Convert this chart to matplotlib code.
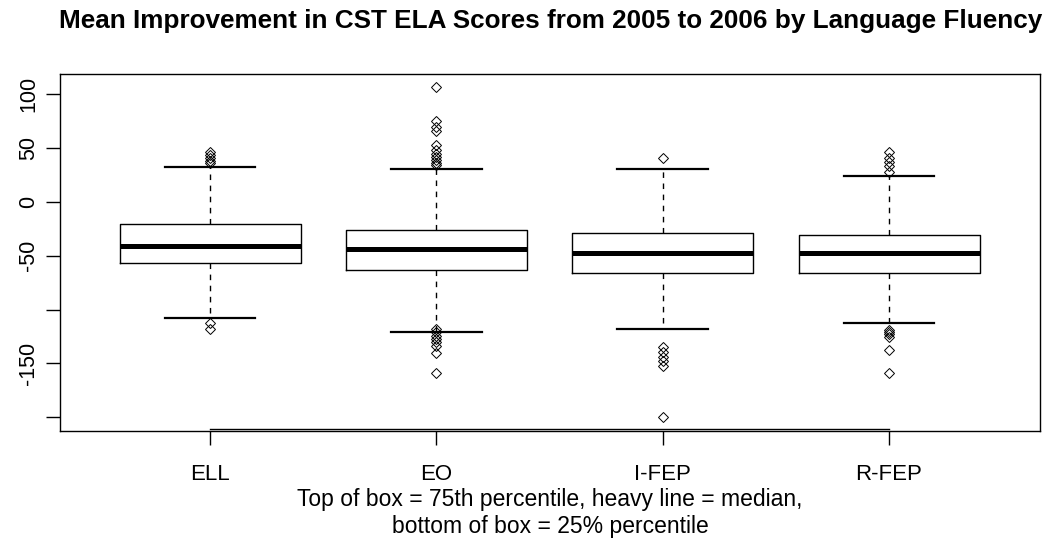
import matplotlib.pyplot as plt
from matplotlib import transforms
import numpy as np

plt.rcParams['font.family'] = ['Liberation Sans', 'DejaVu Sans']

W, H = 1054, 546

groups = ['ELL', 'EO', 'I-FEP', 'R-FEP']
q1 = [-57, -63.5, -65.6, -65.6]
med = [-41, -44, -47.7, -47.7]
q3 = [-20, -26.3, -28.5, -30.6]
whislo = [-107.4, -120.7, -118.3, -112]
whishi = [32.8, 31, 31, 24.1]
fliers = [
    [46.5, 44, 41, 38.5, 36, -112.5, -118],
    [107, 75, 70, 66, 53, 48, 45, 42, 39, 36, 34,
     -118, -121, -124, -127, -130, -134, -140, -159],
    [40.5, -135, -139, -144, -148, -152, -199.5],
    [46.5, 40.5, 37.5, 33.5, 28, -119, -121, -123, -125, -137, -159],
]

yticks = [-200, -150, -100, -50, 0, 50, 100]
ylabels = ['', '-150', '', '-50', '0', '50', '100']

stats = []
for i, g in enumerate(groups):
    stats.append(dict(label=g, q1=q1[i], med=med[i], q3=q3[i],
                      whislo=whislo[i], whishi=whishi[i], fliers=fliers[i]))

fig = plt.figure(figsize=(W / 100, H / 100), dpi=100)
ax = fig.add_axes([60 / W, 1 - 431 / H, 980 / W, 357 / H])

pos = np.arange(1, 5)
ax.bxp(stats, positions=pos, widths=0.8, capwidths=0.4,
       boxprops=dict(color='black', linewidth=1),
       medianprops=dict(color='black', linewidth=3.6, solid_capstyle='butt'),
       whiskerprops=dict(color='black', linewidth=1, linestyle=(0, (4, 4))),
       capprops=dict(color='black', linewidth=1.6),
       flierprops=dict(marker='D', markersize=5.5, markerfacecolor='none',
                       markeredgecolor='black', markeredgewidth=0.7))

ax.set_xlim(0.337, 4.667)
ax.set_ylim(-212.7, 118.9)

ax.set_yticks(yticks)
ax.set_yticklabels(ylabels, rotation=90, va='center')
ax.set_xticks(pos)
ax.set_xticklabels(groups)
ax.tick_params(axis='both', length=10, width=1, color='black')
ax.tick_params(axis='y', pad=5, labelsize=15.5)
ax.tick_params(axis='x', pad=14, labelsize=16)
for s in ax.spines.values():
    s.set_linewidth(1)

# axis line spanning the group positions, just above the frame
trans = transforms.blended_transform_factory(ax.transData, ax.transAxes)
ax.plot([1, 4], [0.006, 0.006], color='black', linewidth=1,
        transform=trans, clip_on=False)

fig.text(551 / W, 1 - 28 / H,
         'Mean Improvement in CST ELA Scores from 2005 to 2006 by Language Fluency',
         ha='center', va='baseline', fontsize=18.8, fontweight='bold')
fig.text(550 / W, 1 - 506 / H,
         'Top of box = 75th percentile, heavy line = median,',
         ha='center', va='baseline', fontsize=16.5)
fig.text(550 / W, 1 - 533 / H, 'bottom of box = 25% percentile',
         ha='center', va='baseline', fontsize=16.5)

fig.savefig('out.png', dpi=100)
